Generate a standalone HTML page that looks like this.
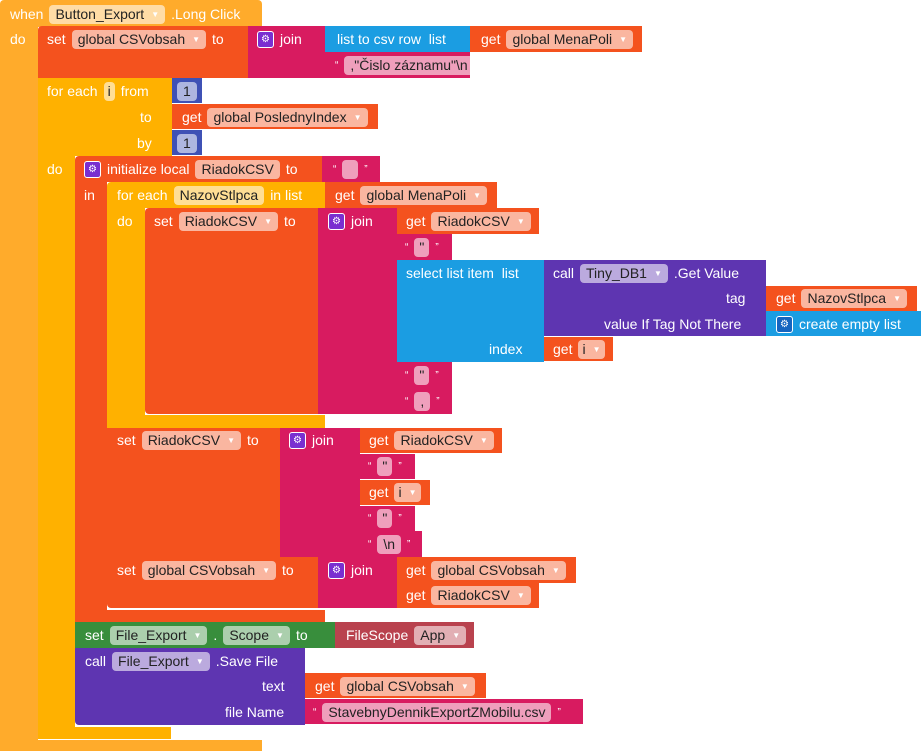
<!DOCTYPE html>
<html><head><meta charset="utf-8"><style>
body{margin:0;width:921px;height:751px;background:#fff;position:relative;overflow:hidden;font-family:"Liberation Sans",sans-serif}
.b{position:absolute}
.r{position:absolute;display:flex;align-items:center;height:26px;color:#fff;font-size:14px;white-space:nowrap;gap:6px}
.f{background:rgba(255,255,255,.58);color:#222;border-radius:4px;padding:2px 6px;line-height:15px}
.f i{font-style:normal;font-size:8px;color:#fff;margin-left:7px;vertical-align:2px}
.g{display:inline-block;width:15px;height:15px;border:1px solid #fff;border-radius:3px;background:#7a2fd0;color:#fff;font-size:10px;line-height:15px;text-align:center}
.q{color:#fff;font-size:10px}
.ev{background:#ffab2b}.ct{background:#ffb100}.vr{background:#f4521e}.tx{background:#d81b60}.ls{background:#1b9de2}.pu{background:#5e35b1}.gr{background:#388e3c}.rd{background:#b9424e}.mt{background:#3f51b5}
</style></head><body>
<div class="b ev" style="left:0;top:0;width:262px;height:27px;border-radius:4px 4px 0 0"></div>
<div class="b ev" style="left:0;top:26px;width:38px;height:716px"></div>
<div class="b ev" style="left:0;top:740px;width:262px;height:11px"></div>
<div class="r" style="left:10px;top:1px">when <span class="f">Button_Export<i>▼</i></span> .Long Click</div>
<div class="r" style="left:10px;top:26px">do</div>
<div class="b vr" style="left:38px;top:26px;width:210px;height:52px;border-radius:4px 0 0 0"></div>
<div class="r" style="left:47px;top:26px">set <span class="f">global CSVobsah<i>▼</i></span> to</div>
<div class="b tx" style="left:248px;top:26px;width:77px;height:52px"></div>
<div class="r" style="left:257px;top:26px"><span class="g">⚙</span> join</div>
<div class="b ls" style="left:325px;top:26px;width:145px;height:26px"></div>
<div class="r" style="left:337px;top:26px">list to csv row&nbsp; list</div>
<div class="b vr" style="left:470px;top:26px;width:172px;height:26px"></div>
<div class="r" style="left:481px;top:26px">get <span class="f">global MenaPoli<i>▼</i></span></div>
<div class="b tx" style="left:325px;top:52px;width:145px;height:26px"></div>
<div class="r" style="left:335px;top:52px"><span class="q">“</span><span class="f">,"Čislo záznamu"\n</span><span class="q">”</span></div>
<div class="b ct" style="left:38px;top:78px;width:134px;height:78px"></div>
<div class="b ct" style="left:38px;top:156px;width:37px;height:575px"></div>
<div class="b ct" style="left:38px;top:727px;width:133px;height:12px"></div>
<div class="r" style="left:47px;top:78px">for each <span class="f" style="padding:2px 4px">i</span> from</div>
<div class="r" style="left:140px;top:104px">to</div>
<div class="r" style="left:137px;top:130px">by</div>
<div class="r" style="left:47px;top:156px">do</div>
<div class="b mt" style="left:172px;top:78px;width:30px;height:25px"></div>
<div class="r" style="left:177px;top:78px"><span class="f">1</span></div>
<div class="b vr" style="left:172px;top:104px;width:206px;height:25px"></div>
<div class="r" style="left:182px;top:104px">get <span class="f">global PoslednyIndex<i>▼</i></span></div>
<div class="b mt" style="left:172px;top:130px;width:30px;height:25px"></div>
<div class="r" style="left:177px;top:130px"><span class="f">1</span></div>
<div class="b vr" style="left:75px;top:156px;width:247px;height:26px;border-radius:4px 0 0 0"></div>
<div class="b vr" style="left:75px;top:182px;width:32px;height:440px"></div>
<div class="b vr" style="left:75px;top:610px;width:250px;height:12px"></div>
<div class="r" style="left:84px;top:156px"><span class="g">⚙</span> initialize local <span class="f">RiadokCSV</span> to</div>
<div class="r" style="left:84px;top:182px">in</div>
<div class="b tx" style="left:322px;top:156px;width:58px;height:26px"></div>
<div class="r" style="left:333px;top:156px"><span class="q">“</span><span class="f" style="padding:2px 6px">&nbsp;</span><span class="q">”</span></div>
<div class="b ct" style="left:107px;top:182px;width:218px;height:26px;border-radius:4px 0 0 0"></div>
<div class="b ct" style="left:107px;top:208px;width:38px;height:220px"></div>
<div class="b ct" style="left:107px;top:415px;width:218px;height:13px"></div>
<div class="r" style="left:117px;top:182px">for each <span class="f">NazovStlpca</span> in list</div>
<div class="r" style="left:117px;top:208px">do</div>
<div class="b vr" style="left:325px;top:182px;width:172px;height:26px"></div>
<div class="r" style="left:335px;top:182px">get <span class="f">global MenaPoli<i>▼</i></span></div>
<div class="b vr" style="left:145px;top:208px;width:173px;height:206px;border-radius:4px 0 0 4px"></div>
<div class="r" style="left:154px;top:208px">set <span class="f">RiadokCSV<i>▼</i></span> to</div>
<div class="b tx" style="left:318px;top:208px;width:79px;height:206px"></div>
<div class="r" style="left:328px;top:208px"><span class="g">⚙</span> join</div>
<div class="b vr" style="left:397px;top:208px;width:142px;height:26px"></div>
<div class="r" style="left:406px;top:208px">get <span class="f">RiadokCSV<i>▼</i></span></div>
<div class="b tx" style="left:397px;top:234px;width:55px;height:26px"></div>
<div class="r" style="left:405px;top:234px"><span class="q">“</span><span class="f" style="padding:2px 5px">"</span><span class="q">”</span></div>
<div class="b ls" style="left:397px;top:260px;width:147px;height:102px"></div>
<div class="r" style="left:406px;top:260px">select list item&nbsp; list</div>
<div class="r" style="left:489px;top:336px">index</div>
<div class="b pu" style="left:544px;top:260px;width:222px;height:76px"></div>
<div class="r" style="left:553px;top:260px">call <span class="f">Tiny_DB1<i>▼</i></span> .Get Value</div>
<div class="r" style="left:726px;top:285px">tag</div>
<div class="r" style="left:604px;top:311px">value If Tag Not There</div>
<div class="b vr" style="left:766px;top:286px;width:151px;height:25px"></div>
<div class="r" style="left:776px;top:285px">get <span class="f">NazovStlpca<i>▼</i></span></div>
<div class="b ls" style="left:766px;top:311px;width:155px;height:25px"></div>
<div class="r" style="left:776px;top:311px"><span class="g" style="background:#1565c0">⚙</span> create empty list</div>
<div class="b vr" style="left:544px;top:337px;width:69px;height:24px"></div>
<div class="r" style="left:553px;top:336px">get <span class="f" style="padding:2px 4px">i<i>▼</i></span></div>
<div class="b tx" style="left:397px;top:362px;width:55px;height:26px"></div>
<div class="r" style="left:405px;top:362px"><span class="q">“</span><span class="f" style="padding:2px 5px">"</span><span class="q">”</span></div>
<div class="b tx" style="left:397px;top:388px;width:55px;height:26px"></div>
<div class="r" style="left:405px;top:388px"><span class="q">“</span><span class="f" style="padding:2px 6px">,</span><span class="q">”</span></div>
<div class="b vr" style="left:107px;top:428px;width:173px;height:129px"></div>
<div class="r" style="left:117px;top:427px">set <span class="f">RiadokCSV<i>▼</i></span> to</div>
<div class="b tx" style="left:280px;top:428px;width:80px;height:129px"></div>
<div class="r" style="left:289px;top:427px"><span class="g">⚙</span> join</div>
<div class="b vr" style="left:360px;top:428px;width:142px;height:25px"></div>
<div class="r" style="left:369px;top:427px">get <span class="f">RiadokCSV<i>▼</i></span></div>
<div class="b tx" style="left:360px;top:454px;width:55px;height:25px"></div>
<div class="r" style="left:368px;top:453px"><span class="q">“</span><span class="f" style="padding:2px 5px">"</span><span class="q">”</span></div>
<div class="b vr" style="left:360px;top:480px;width:70px;height:25px"></div>
<div class="r" style="left:369px;top:479px">get <span class="f" style="padding:2px 4px">i<i>▼</i></span></div>
<div class="b tx" style="left:360px;top:506px;width:55px;height:25px"></div>
<div class="r" style="left:368px;top:505px"><span class="q">“</span><span class="f" style="padding:2px 5px">"</span><span class="q">”</span></div>
<div class="b tx" style="left:360px;top:531px;width:62px;height:26px"></div>
<div class="r" style="left:368px;top:531px"><span class="q">“</span><span class="f">\n</span><span class="q">”</span></div>
<div class="b vr" style="left:107px;top:557px;width:211px;height:51px;border-radius:0 0 0 4px"></div>
<div class="r" style="left:117px;top:557px">set <span class="f">global CSVobsah<i>▼</i></span> to</div>
<div class="b tx" style="left:318px;top:557px;width:79px;height:51px"></div>
<div class="r" style="left:328px;top:557px"><span class="g">⚙</span> join</div>
<div class="b vr" style="left:397px;top:557px;width:179px;height:26px"></div>
<div class="r" style="left:406px;top:557px">get <span class="f">global CSVobsah<i>▼</i></span></div>
<div class="b vr" style="left:397px;top:583px;width:142px;height:25px"></div>
<div class="r" style="left:406px;top:582px">get <span class="f">RiadokCSV<i>▼</i></span></div>
<div class="b gr" style="left:75px;top:622px;width:260px;height:26px"></div>
<div class="r" style="left:85px;top:622px">set <span class="f">File_Export<i>▼</i></span> . <span class="f">Scope<i>▼</i></span> to</div>
<div class="b rd" style="left:335px;top:622px;width:139px;height:26px"></div>
<div class="r" style="left:346px;top:622px">FileScope <span class="f">App<i>▼</i></span></div>
<div class="b pu" style="left:75px;top:648px;width:230px;height:77px;border-radius:0 0 0 4px"></div>
<div class="r" style="left:85px;top:648px">call <span class="f">File_Export<i>▼</i></span> .Save File</div>
<div class="r" style="left:262px;top:673px">text</div>
<div class="r" style="left:225px;top:699px">file Name</div>
<div class="b vr" style="left:305px;top:673px;width:181px;height:25px"></div>
<div class="r" style="left:315px;top:673px">get <span class="f">global CSVobsah<i>▼</i></span></div>
<div class="b tx" style="left:305px;top:699px;width:278px;height:25px"></div>
<div class="r" style="left:313px;top:699px"><span class="q">“</span><span class="f">StavebnyDennikExportZMobilu.csv</span><span class="q">”</span></div>
</body></html>
